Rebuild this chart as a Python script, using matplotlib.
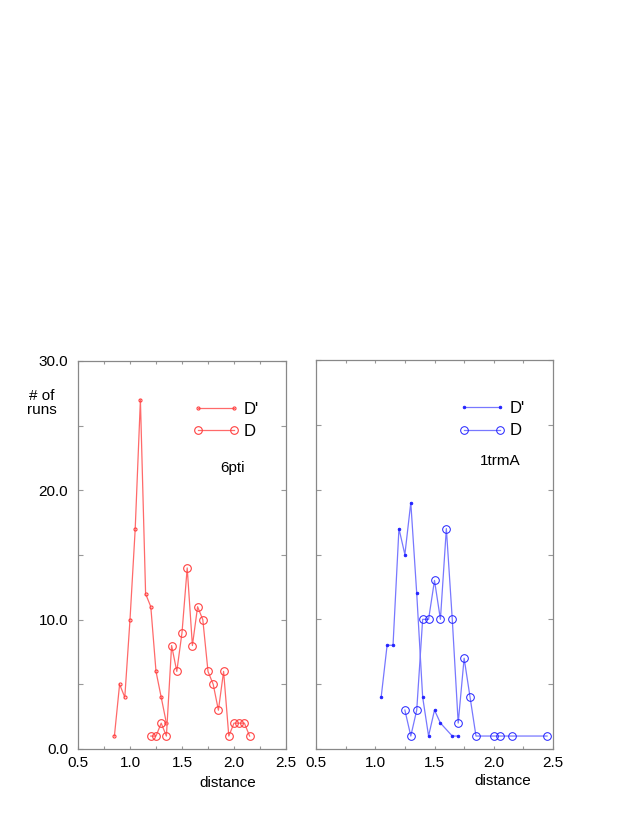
import matplotlib
matplotlib.use("Agg")
import matplotlib.pyplot as plt
import numpy as np

plt.rcParams['font.family'] = ['Liberation Sans', 'DejaVu Sans']

# ---- data: 6pti (left) ----
x6_dp = [0.85, 0.90, 0.95, 1.00, 1.05, 1.10, 1.15, 1.20, 1.25, 1.30, 1.35]
y6_dp = [1, 5, 4, 10, 17, 27, 12, 11, 6, 4, 2]
x6_d = [1.20, 1.25, 1.30, 1.35, 1.40, 1.45, 1.50, 1.55, 1.60, 1.65, 1.70,
        1.75, 1.80, 1.85, 1.90, 1.95, 2.00, 2.05, 2.10, 2.15]
y6_d = [1, 1, 2, 1, 8, 6, 9, 14, 8, 11, 10, 6, 5, 3, 6, 1, 2, 2, 2, 1]

# ---- data: 1trmA (right) ----
x1_dp = [1.05, 1.10, 1.15, 1.20, 1.25, 1.30, 1.35, 1.40, 1.45, 1.50, 1.55, 1.65, 1.70]
y1_dp = [4, 8, 8, 17, 15, 19, 12, 4, 1, 3, 2, 1, 1]
x1_d = [1.25, 1.30, 1.35, 1.40, 1.45, 1.50, 1.55, 1.60, 1.65, 1.70, 1.75,
        1.80, 1.85, 2.00, 2.05, 2.15, 2.45]
y1_d = [3, 1, 3, 10, 10, 13, 10, 17, 10, 2, 7, 4, 1, 1, 1, 1, 1]

xticks = np.arange(0.5, 2.51, 0.25)
xticklabels = ["%.1f" % t if abs(t * 2 - round(t * 2)) < 1e-6 else "" for t in xticks]
yticks = np.arange(0, 30.1, 5)
yticklabels = ["%.1f" % t if t % 10 == 0 else "" for t in yticks]

W, H = 632, 817
fig = plt.figure(figsize=(W / 100, H / 100), dpi=100)

def px_axes(x0, x1, ytop, ybot):
    return fig.add_axes([x0 / W, (H - ybot) / H, (x1 - x0) / W, (ybot - ytop) / H])

axL = px_axes(78, 286, 361, 749)
axR = px_axes(316, 553, 360, 749)

red_line = '#ff6a6a'
red_mk = '#ff4040'
blue_line = '#7878ff'
blue_mk = '#2020ff'

FS = 11

for ax in (axL, axR):
    ax.set_xlim(0.5, 2.5)
    ax.set_ylim(0, 30)
    ax.set_xticks(xticks)
    ax.set_xticklabels(xticklabels, fontsize=FS)
    ax.set_yticks(yticks)
    for s in ax.spines.values():
        s.set_color('#888888')
        s.set_linewidth(0.9)
    ax.tick_params(axis='x', direction='in', length=2.2, width=0.8, color='#999999',
                   top=True, bottom=True, pad=5)
    ax.tick_params(axis='y', direction='in', length=3.5, width=0.8, color='#999999',
                   left=True, right=True, pad=7)

axL.set_yticklabels(yticklabels, fontsize=FS)
axR.set_yticklabels([])

leg_kw = dict(loc='upper left', frameon=False, fontsize=FS + 1, handlelength=2.76,
              handletextpad=0.3, labelspacing=0.45, borderaxespad=0, numpoints=2)

# left panel
lDp, = axL.plot(x6_dp, y6_dp, '-', color=red_line, lw=0.9, marker='o', ms=2.2,
                mfc='none', mec=red_mk, mew=0.8)
lD, = axL.plot(x6_d, y6_d, '-', color=red_line, lw=0.9, marker='o', ms=5.5,
               mfc='none', mec=red_mk, mew=0.8)
axL.legend([lDp, lD], ["D'", "D"], bbox_to_anchor=(0.52, 0.912), **leg_kw)
axL.text(0.685, 0.725, "6pti", transform=axL.transAxes, fontsize=FS, va='center', ha='left')

# right panel
rDp, = axR.plot(x1_dp, y1_dp, '-', color=blue_line, lw=0.9, marker='o', ms=2.0,
                mfc=blue_mk, mec=blue_mk, mew=0.5)
rD, = axR.plot(x1_d, y1_d, '-', color=blue_line, lw=0.9, marker='o', ms=5.5,
               mfc='none', mec=blue_mk, mew=0.7)
axR.legend([rDp, rD], ["D'", "D"], bbox_to_anchor=(0.575, 0.912), **leg_kw)
axR.text(0.69, 0.74, "1trmA", transform=axR.transAxes, fontsize=FS, va='center', ha='left')

# axis titles
fig.text(42 / W, 1 - 403 / H, "# of\nruns", fontsize=FS, ha='center', va='center',
         linespacing=1.0)
fig.text(228 / W, 1 - 783 / H, "distance", fontsize=FS, ha='center', va='center')
fig.text(503 / W, 1 - 781 / H, "distance", fontsize=FS, ha='center', va='center')

fig.savefig("out.png", dpi=100)
